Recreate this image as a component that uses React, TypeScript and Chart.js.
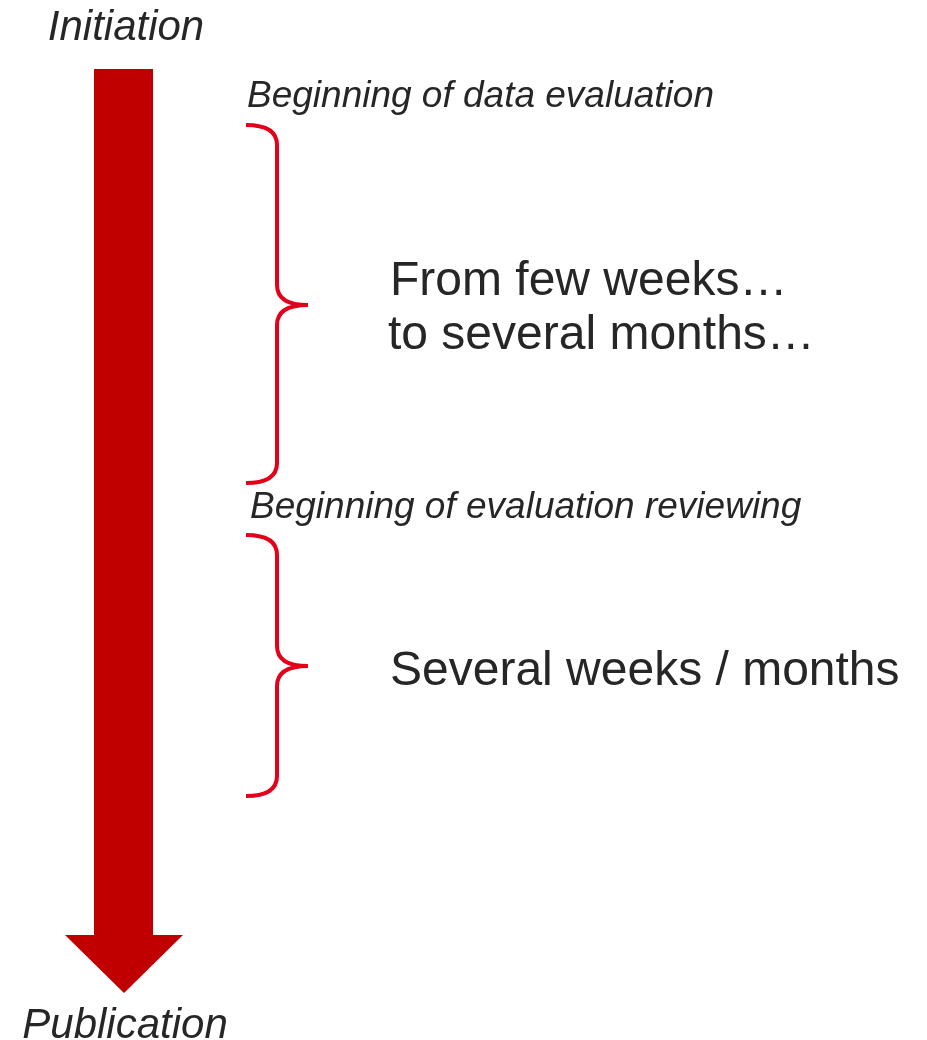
import React, { useEffect, useRef } from "react";
import { Chart, registerables } from "chart.js";

Chart.register(...registerables);

// Diagram coordinate space (data units)
const X_RANGE = [0, 927];
const Y_RANGE = [0, 1040];

// Timeline endpoints
const stageLabels = ["Initiation", "Publication"];
const stageCenterX = [126, 125];
const stageBaselineY = [40, 1038];

// Arrow (shaft and head) in data units
const arrowShaftX = [94, 153];
const arrowShaftY = [69, 935];
const arrowHeadX = [65, 183];
const arrowTipY = 993;

// Phases
const phaseLabels = ["Beginning of data evaluation", "Beginning of evaluation reviewing"];
const phaseLabelX = [247, 250];
const phaseLabelY = [107, 518];

// Braces: top, middle, bottom of each phase span
const braceTop = [125, 535];
const braceMid = [305, 666];
const braceBottom = [483, 796];
const braceX = [246, 277, 308];

// Durations
const durationLines = [["From few weeks…", "to several months…"], ["Several weeks / months"]];
const durationX = [[390, 388], [390]];
const durationY = [[295, 349], [685]];

const TEXT = "#262626";
const RED = "#C00000";
const BRACE = "#E2001A";
const FONT = '"Liberation Sans", Arial, "DejaVu Sans", sans-serif';

const diagramPlugin = {
  id: "diagram",
  afterDraw(chart: any) {
    const ctx = chart.ctx as CanvasRenderingContext2D;
    const xs = chart.scales.x;
    const ys = chart.scales.y;
    const px = (v: number) => xs.getPixelForValue(v);
    const py = (v: number) => ys.getPixelForValue(v);
    ctx.save();

    // Arrow
    ctx.fillStyle = RED;
    ctx.beginPath();
    ctx.moveTo(px(arrowShaftX[0]), py(arrowShaftY[0]));
    ctx.lineTo(px(arrowShaftX[1]), py(arrowShaftY[0]));
    ctx.lineTo(px(arrowShaftX[1]), py(arrowShaftY[1]));
    ctx.lineTo(px(arrowHeadX[1]), py(arrowShaftY[1]));
    ctx.lineTo(px((arrowHeadX[0] + arrowHeadX[1]) / 2), py(arrowTipY));
    ctx.lineTo(px(arrowHeadX[0]), py(arrowShaftY[1]));
    ctx.lineTo(px(arrowShaftX[0]), py(arrowShaftY[1]));
    ctx.closePath();
    ctx.fill();

    // Braces
    ctx.strokeStyle = BRACE;
    ctx.lineWidth = 4;
    ctx.lineCap = "butt";
    ctx.lineJoin = "round";
    const r = 20;
    for (let i = 0; i < braceTop.length; i++) {
      const x0 = px(braceX[0]);
      const xv = px(braceX[1]);
      const xm = px(braceX[2]);
      const yt = py(braceTop[i]);
      const ym = py(braceMid[i]);
      const yb = py(braceBottom[i]);
      ctx.beginPath();
      ctx.moveTo(x0, yt);
      ctx.quadraticCurveTo(xv, yt, xv, yt + r);
      ctx.lineTo(xv, ym - r);
      ctx.quadraticCurveTo(xv, ym, xm, ym);
      ctx.moveTo(xm, ym);
      ctx.quadraticCurveTo(xv, ym, xv, ym + r);
      ctx.lineTo(xv, yb - r);
      ctx.quadraticCurveTo(xv, yb, x0, yb);
      ctx.stroke();
    }

    // Texts
    ctx.fillStyle = TEXT;
    ctx.textBaseline = "alphabetic";
    ctx.font = `italic 42px ${FONT}`;
    ctx.textAlign = "center";
    stageLabels.forEach((t, i) => ctx.fillText(t, px(stageCenterX[i]), py(stageBaselineY[i])));

    ctx.textAlign = "left";
    ctx.font = `italic 37px ${FONT}`;
    phaseLabels.forEach((t, i) => ctx.fillText(t, px(phaseLabelX[i]), py(phaseLabelY[i])));

    ctx.font = `48px ${FONT}`;
    durationLines.forEach((lines, i) =>
      lines.forEach((t, j) => ctx.fillText(t, px(durationX[i][j]), py(durationY[i][j])))
    );

    ctx.restore();
  },
};

export default function App() {
  const ref = useRef<HTMLCanvasElement | null>(null);
  useEffect(() => {
    document.body.style.margin = "0";
    const canvas = ref.current;
    if (!canvas) return;
    const chart = new Chart(canvas, {
      type: "scatter",
      data: { datasets: [{ data: [], pointRadius: 0 }] },
      options: {
        animation: false,
        responsive: false,
        maintainAspectRatio: false,
        layout: { padding: 0 },
        plugins: { legend: { display: false }, tooltip: { enabled: false } },
        scales: {
          x: { type: "linear", min: X_RANGE[0], max: X_RANGE[1], display: false },
          y: { type: "linear", min: Y_RANGE[0], max: Y_RANGE[1], reverse: true, display: false },
        },
      },
      plugins: [diagramPlugin],
    });
    return () => chart.destroy();
  }, []);
  return (
    <div style={{ width: 927, height: 1040, overflow: "hidden", background: "#fff" }}>
      <canvas ref={ref} width={927} height={1040} style={{ display: "block" }} />
    </div>
  );
}
